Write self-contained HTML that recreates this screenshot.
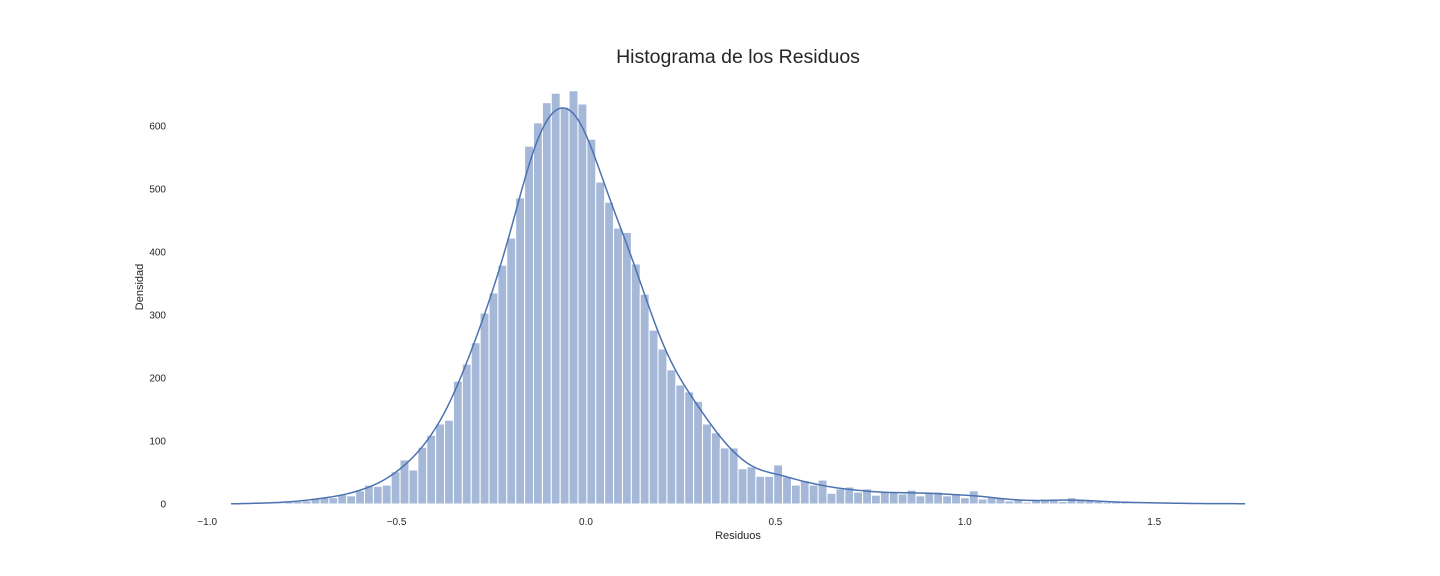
<!DOCTYPE html>
<html><head><meta charset="utf-8">
<style>
html,body{margin:0;padding:0;background:#fff;}
svg{display:block;font-family:"Liberation Sans",sans-serif;}
</style></head>
<body>
<svg id="chart" width="1440" height="576" viewBox="0 0 1440 576">
<text x="738" y="63" text-anchor="middle" font-size="19.5" fill="#262626">Histograma de los Residuos</text>
<g id="bars"></g>
<path id="kde" fill="none" stroke="#4c72b0" stroke-width="1.5"></path>
<g id="xticks"></g>
<g id="yticks"></g>
<text x="738" y="539" text-anchor="middle" font-size="11" fill="#262626">Residuos</text>
<text transform="translate(143,287) rotate(-90)" text-anchor="middle" font-size="11" fill="#262626">Densidad</text>
</svg>
<script>
const binMin = -0.937;
const binMax = 1.740;
const counts = [0,1,1,1,2,2,
3,4,5,8,10,10,15,13,21,30,28,30,51,70,54,90,109,127,133,195,222,256,303,335,379,422,486,568,605,637,652,630,656,635,579,511,479,
438,431,381,333,276,246,213,189,178,163,127,113,89,89,56,59,44,44,62,43,30,37,30,38,17,24,27,19,24,14,19,19,16,22,13,
19,19,13,16,10,21,8,11,10,5,7,3,6,6,6,4,10,6,6,4,3,3,3,2,2,2,2,
1,1,1,1,0,1,0,1,1];
const xTicks = [-1.0,-0.5,0.0,0.5,1.0,1.5];
const xTickLabels = ["\u22121.0","\u22120.5","0.0","0.5","1.0","1.5"];
const yTicks = [0,100,200,300,400,500,600];

const NS="http://www.w3.org/2000/svg";
function xs(v){return 586 + v*378.8;}
function ys(v){return 504 - v*0.63;}
const N = counts.length;
const bw = (binMax-binMin)/N;
const barsG=document.getElementById('bars');
counts.forEach((c,i)=>{
  if(c<=0) return;
  const x0=xs(binMin+i*bw), x1=xs(binMin+(i+1)*bw);
  const r=document.createElementNS(NS,'rect');
  r.setAttribute('x',x0);r.setAttribute('width',x1-x0);
  r.setAttribute('y',ys(c));r.setAttribute('height',ys(0)-ys(c));
  r.setAttribute('fill','#a5b8d8');r.setAttribute('stroke','#fff');r.setAttribute('stroke-width','1');
  
  
  barsG.appendChild(r);
});
// KDE: gaussian smoothing of histogram counts
const h=0.045;
let d='';
const steps=300;
for(let k=0;k<=steps;k++){
  const x=binMin+(binMax-binMin)*k/steps;
  let s=0,norm=0;
  counts.forEach((c,i)=>{
    const cx=binMin+(i+0.5)*bw;
    s+=c*Math.exp(-0.5*((x-cx)/h)**2);
  });
  const val=s*bw/(h*Math.sqrt(2*Math.PI));
  d+=(k?'L':'M')+xs(x).toFixed(2)+','+ys(val).toFixed(2);
}
document.getElementById('kde').setAttribute('d',d);
const xg=document.getElementById('xticks');
xTicks.forEach((t,i)=>{
  const tx=document.createElementNS(NS,'text');
  tx.setAttribute('x',xs(t));tx.setAttribute('y',525);
  tx.setAttribute('text-anchor','middle');tx.setAttribute('font-size','10');tx.setAttribute('fill','#262626');
  tx.textContent=xTickLabels[i];
  
  
  xg.appendChild(tx);
});
const yg=document.getElementById('yticks');
yTicks.forEach(t=>{
  const tx=document.createElementNS(NS,'text');
  tx.setAttribute('x',166);tx.setAttribute('y',ys(t)+3.5);
  tx.setAttribute('text-anchor','end');tx.setAttribute('font-size','10');tx.setAttribute('fill','#262626');
  tx.textContent=String(t);
  
  
  yg.appendChild(tx);
});
</script>
</body></html>
